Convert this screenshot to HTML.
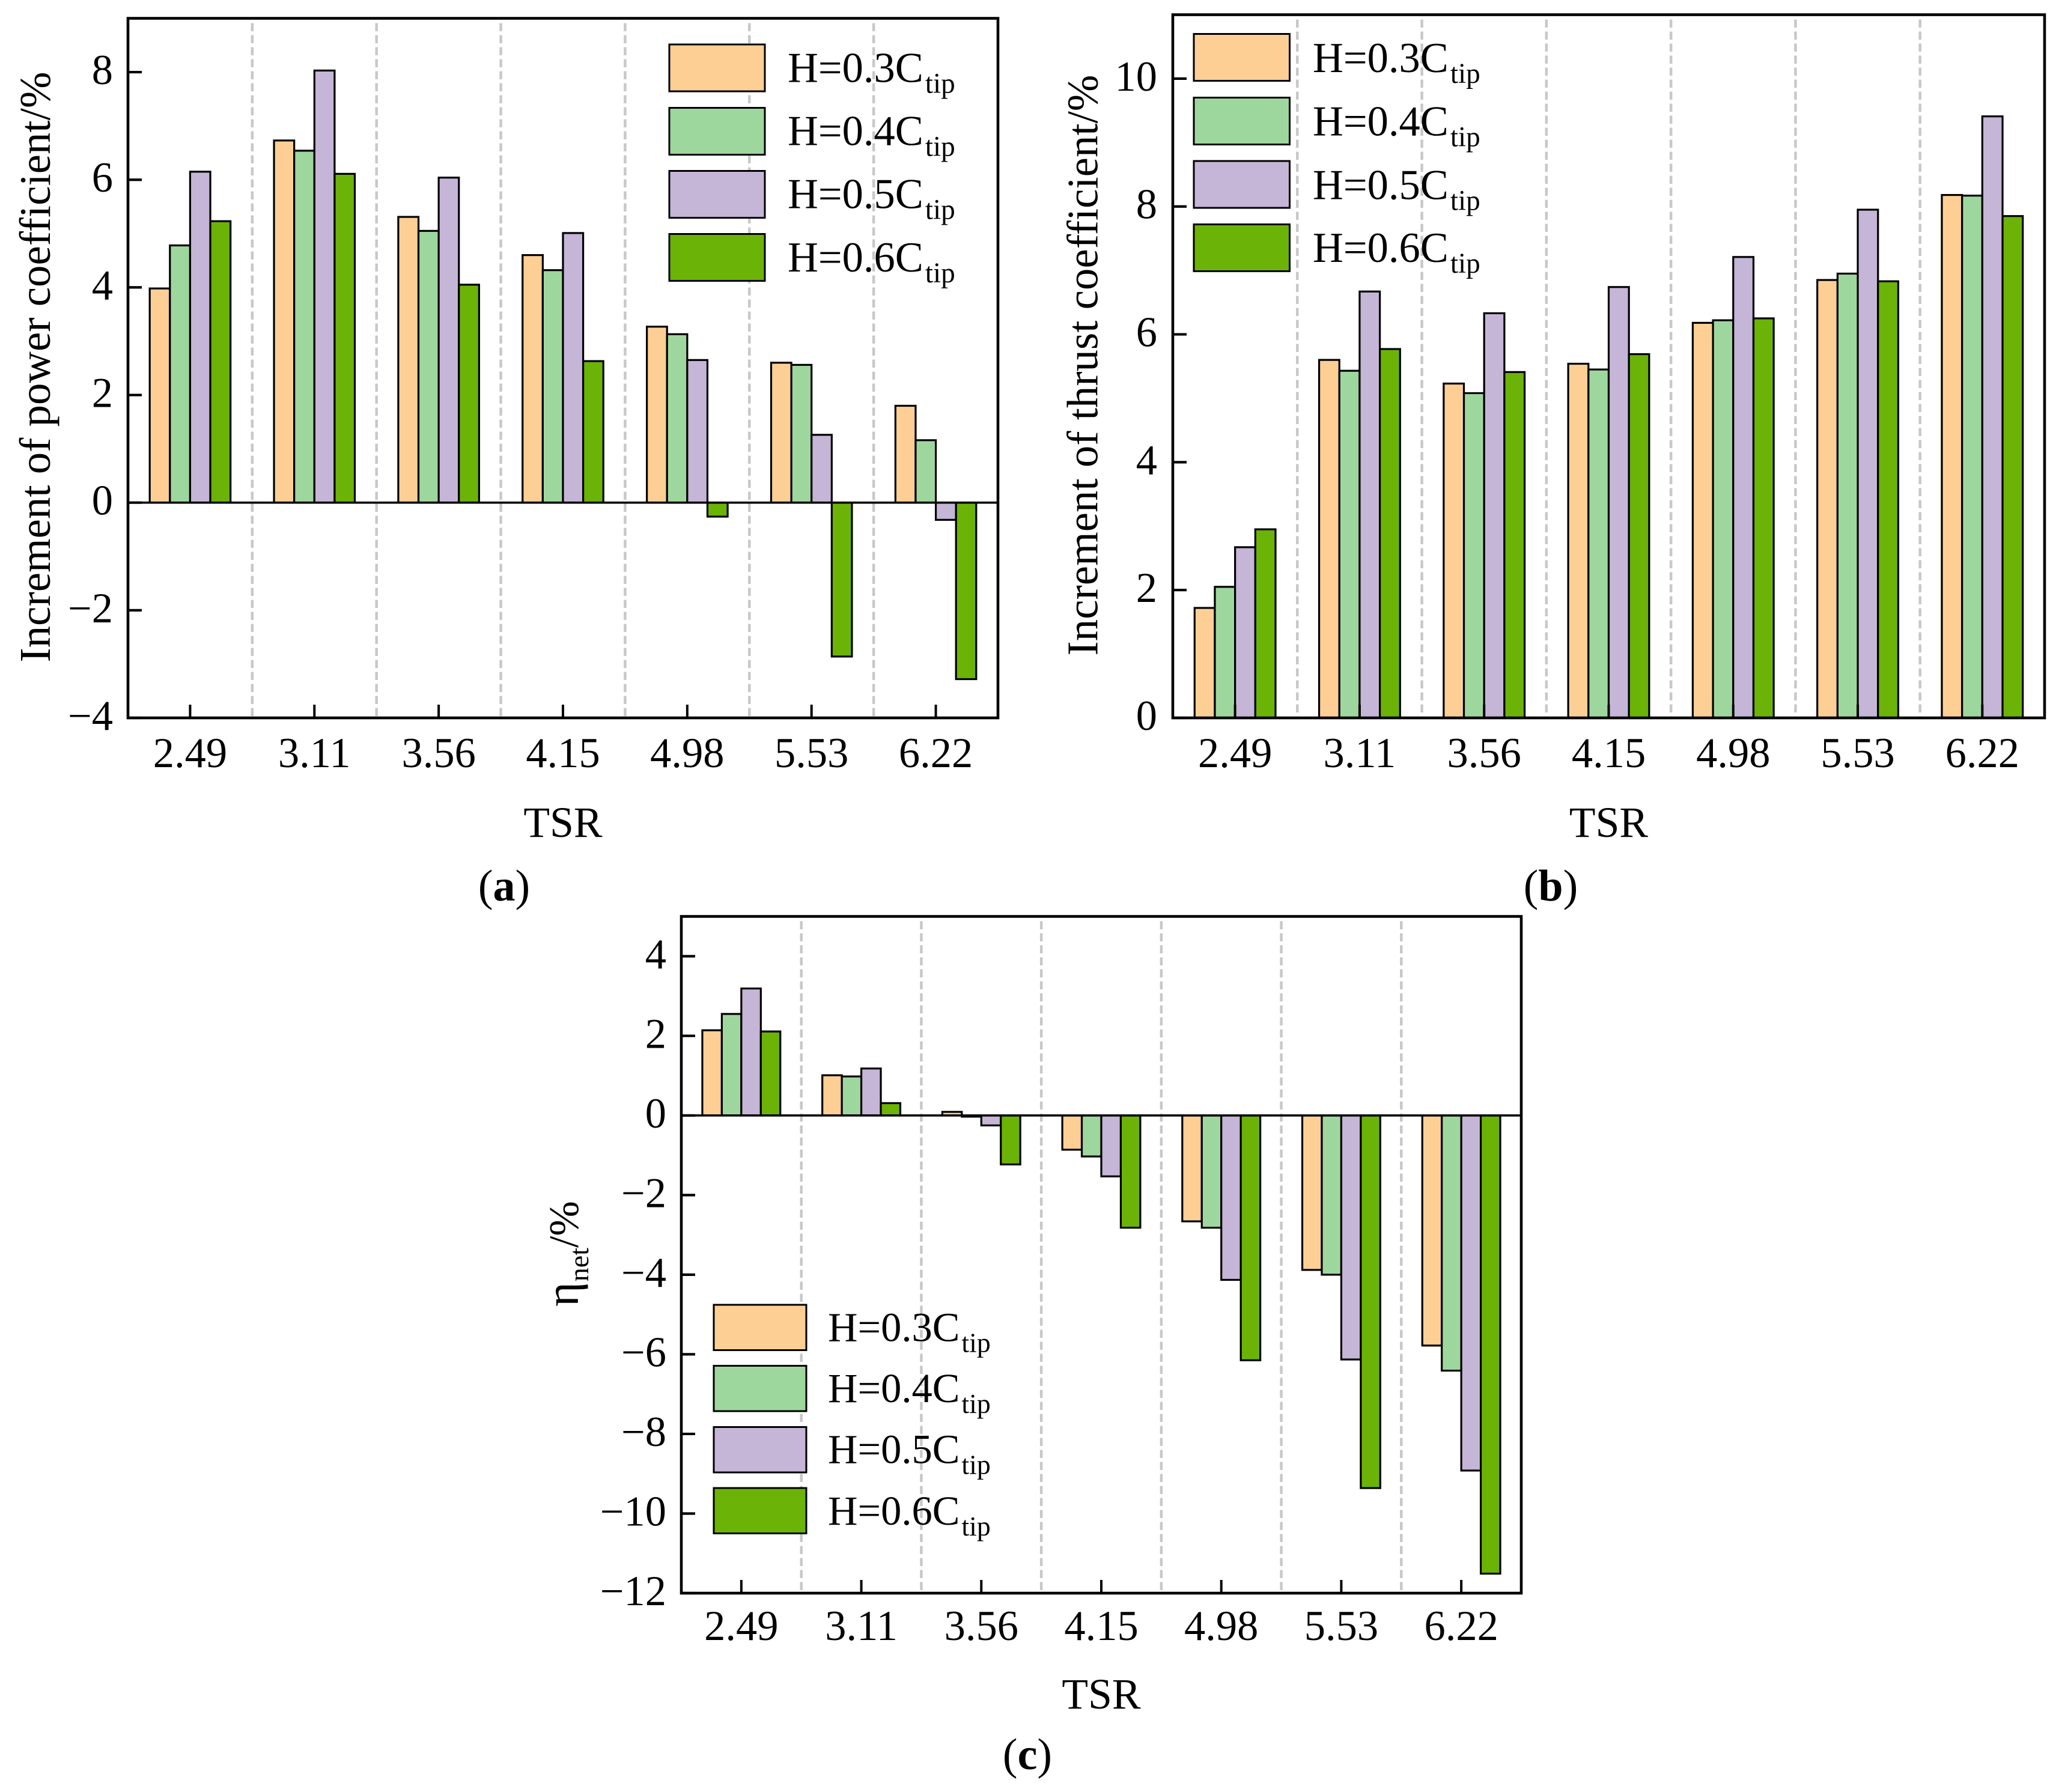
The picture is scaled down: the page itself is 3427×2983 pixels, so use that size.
<!DOCTYPE html>
<html lang="en">
<head>
<meta charset="utf-8">
<title>Increment of power coefficient, thrust coefficient and net efficiency vs TSR</title>
<style>
html,body{margin:0;padding:0;background:#fff;}
svg{display:block;}
text{font-family:"Liberation Serif","Times New Roman",serif;fill:#000;}
</style>
</head>
<body>
<svg id="figure" xmlns="http://www.w3.org/2000/svg" width="3427" height="2983" viewBox="0 0 3427 2983"></svg>
<script>
const tsrCategories = ['2.49','3.11','3.56','4.15','4.98','5.53','6.22'];
const seriesGaps = ['0.3','0.4','0.5','0.6'];
const seriesColors = ['#FDCF94','#9ED79D','#C5B5D7','#6BB306'];

const powerH03 = [3.98,6.73,5.31,4.60,3.27,2.60,1.80];
const powerH04 = [4.78,6.54,5.05,4.32,3.13,2.56,1.16];
const powerH05 = [6.15,8.03,6.04,5.01,2.65,1.26,-0.32];
const powerH06 = [5.23,6.11,4.05,2.63,-0.26,-2.86,-3.28];
const powerTicks = [-4,-2,0,2,4,6,8];

const thrustH03 = [1.72,5.60,5.23,5.54,6.18,6.85,8.18];
const thrustH04 = [2.05,5.43,5.08,5.45,6.22,6.95,8.17];
const thrustH05 = [2.67,6.67,6.33,6.74,7.21,7.95,9.41];
const thrustH06 = [2.95,5.77,5.41,5.69,6.25,6.83,7.85];
const thrustTicks = [0,2,4,6,8,10];

const netH03 = [2.14,1.01,0.09,-0.86,-2.66,-3.88,-5.78];
const netH04 = [2.55,0.98,-0.03,-1.03,-2.82,-4.00,-6.41];
const netH05 = [3.19,1.18,-0.25,-1.53,-4.13,-6.13,-8.92];
const netH06 = [2.11,0.31,-1.23,-2.82,-6.15,-9.36,-11.51];
const netTicks = [-12,-10,-8,-6,-4,-2,0,2,4];

const NS = 'http://www.w3.org/2000/svg';
const figure = document.getElementById('figure');

function svgEl(tag, attrs, parent) {
  const el = document.createElementNS(NS, tag);
  for (const k in attrs) el.setAttribute(k, attrs[k]);
  parent.appendChild(el);
  return el;
}
function fmt(v) { return (v < 0 ? '\u2212' + Math.abs(v) : String(v)); }

function drawPanel(p) {
  const g = svgEl('g', {}, figure);
  
  

  const band = (p.right - p.left) / tsrCategories.length;
  const barW = band * 0.1625;
  const xCenter = i => p.left + band * (i + 0.5);
  const yScale = v => p.bottom - (v - p.yMin) / (p.yMax - p.yMin) * (p.bottom - p.top);

  // separators
  for (let i = 1; i < tsrCategories.length; i++) {
    const line = svgEl('line', {x1: p.left + band * i, x2: p.left + band * i, y1: p.top + 8, y2: p.bottom - 2,
      stroke: '#c8c8c8', 'stroke-width': 4.5, 'stroke-dasharray': '13.5 6.5'}, g);
    
    
  }

  // bars
  p.series.forEach((vals, s) => {
    vals.forEach((v, i) => {
      const y0 = yScale(0), y1 = yScale(v);
      const rect = svgEl('rect', {x: xCenter(i) + (s - 2) * barW, y: Math.min(y0, y1), width: barW,
        height: Math.abs(y1 - y0), fill: seriesColors[s], stroke: '#000', 'stroke-width': 3.2}, g);
      
      
    });
  });

  // zero line
  if (p.yMin < 0) {
    const zero = svgEl('line', {x1: p.left, x2: p.right, y1: yScale(0), y2: yScale(0), stroke: '#000', 'stroke-width': 3.6}, g);
    
    
  }

  // y ticks
  p.ticks.forEach(v => {
    const y = yScale(v);
    const tick = svgEl('line', {x1: p.left, x2: p.left + 23, y1: y, y2: y, stroke: '#000', 'stroke-width': 4.2}, g);
    
    
    const label = svgEl('text', {x: p.yLabelX, y: y + 20, 'text-anchor': 'end', 'font-size': 70.5}, g);
    label.textContent = fmt(v);
    
    
  });

  // x ticks
  tsrCategories.forEach((c, i) => {
    const x = xCenter(i);
    const tick = svgEl('line', {x1: x, x2: x, y1: p.bottom, y2: p.bottom - 22, stroke: '#000', 'stroke-width': 4}, g);
    
    
    const label = svgEl('text', {x: x, y: p.xLabelY, 'text-anchor': 'middle', 'font-size': 70.5}, g);
    label.textContent = c;
    
    
  });

  // frame
  const frame = svgEl('rect', {x: p.left, y: p.top, width: p.right - p.left, height: p.bottom - p.top,
    fill: 'none', stroke: '#000', 'stroke-width': 4.6}, g);
  
  

  // x axis title
  const xTitle = svgEl('text', {x: (p.left + p.right) / 2, y: p.xTitleY, 'text-anchor': 'middle', 'font-size': 71.5}, g);
  xTitle.textContent = 'TSR';
  
  

  // y axis title
  if (p.yTitle) {
    const yTitle = svgEl('text', {transform: 'translate(' + p.yTitleX + ' ' + p.yTitleY + ') rotate(-90)',
      'text-anchor': 'middle', 'font-size': 72.8}, g);
    yTitle.textContent = p.yTitle;
    
    
  } else {
    const yTitle = svgEl('text', {transform: 'translate(' + p.yTitleX + ' ' + p.yTitleY + ') rotate(-90)',
      'text-anchor': 'start', 'font-size': 70}, g);
    
    
    const eta = svgEl('tspan', {'font-size': 78}, yTitle);
    eta.textContent = '\u03b7';
    const sub = svgEl('tspan', {'font-size': 46, dy: 17, dx: 1}, yTitle);
    sub.textContent = 'net';
    const rest = svgEl('tspan', {dy: -17}, yTitle);
    rest.textContent = '/%';
  }

  // legend
  seriesGaps.forEach((gap, s) => {
    const item = svgEl('g', {}, g);
    
    
    const sw = svgEl('rect', {x: p.legendX, y: p.legendY[s], width: p.legendW, height: p.legendH,
      fill: seriesColors[s], stroke: '#000', 'stroke-width': 3}, item);
    
    
    const tx = svgEl('text', {x: p.legendTextX, y: p.legendBase[s], 'font-size': p.legendFont}, item);
    
    
    const main = svgEl('tspan', {}, tx);
    main.textContent = 'H=' + gap + 'C';
    const sb = svgEl('tspan', {'font-size': p.legendFont * 0.67, dy: 18, dx: 3}, tx);
    sb.textContent = 'tip';
  });

  // panel caption
  const cap = svgEl('text', {x: p.capX, y: p.capY, 'text-anchor': 'middle', 'font-size': 74}, g);
  
  
  const open = svgEl('tspan', {}, cap);
  open.textContent = '(';
  const letter = svgEl('tspan', {'font-weight': 'bold'}, cap);
  letter.textContent = p.id;
  const close = svgEl('tspan', {}, cap);
  close.textContent = ')';
}

drawPanel({
  id: 'a', left: 213, right: 1661, top: 30.5, bottom: 1195, yMin: -4, yMax: 9,
  series: [powerH03, powerH04, powerH05, powerH06], ticks: powerTicks,
  yLabelX: 188, xLabelY: 1277, xTitleY: 1393,
  yTitle: 'Increment of power coefficient/%', yTitleX: 83, yTitleY: 611,
  legendX: 1114, legendW: 159, legendH: 78, legendY: [74, 179.5, 284.5, 389.5],
  legendTextX: 1311, legendBase: [136.6, 241.5, 346.4, 451.8], legendFont: 70.5,
  capX: 839, capY: 1499
});

drawPanel({
  id: 'b', left: 1952, right: 3403, top: 24.5, bottom: 1195, yMin: 0, yMax: 11,
  series: [thrustH03, thrustH04, thrustH05, thrustH06], ticks: thrustTicks,
  yLabelX: 1926, xLabelY: 1277, xTitleY: 1393,
  yTitle: 'Increment of thrust coefficient/%', yTitleX: 1826.5, yTitleY: 608,
  legendX: 1987, legendW: 159.5, legendH: 78, legendY: [56.5, 162.5, 268, 373.5],
  legendTextX: 2185, legendBase: [120, 225.5, 331.6, 436], legendFont: 70.5,
  capX: 2581, capY: 1499
});

drawPanel({
  id: 'c', left: 1134, right: 2532, top: 1525.5, bottom: 2652, yMin: -12, yMax: 5,
  series: [netH03, netH04, netH05, netH06], ticks: netTicks,
  yLabelX: 1109, xLabelY: 2730, xTitleY: 2844,
  yTitle: null, yTitleX: 962, yTitleY: 2175,
  legendX: 1188, legendW: 154, legendH: 75.5, legendY: [2172, 2273.5, 2375.5, 2477],
  legendTextX: 1378, legendBase: [2232.6, 2334, 2435.5, 2538], legendFont: 68.5,
  capX: 1710, capY: 2945
});
</script>
</body>
</html>
